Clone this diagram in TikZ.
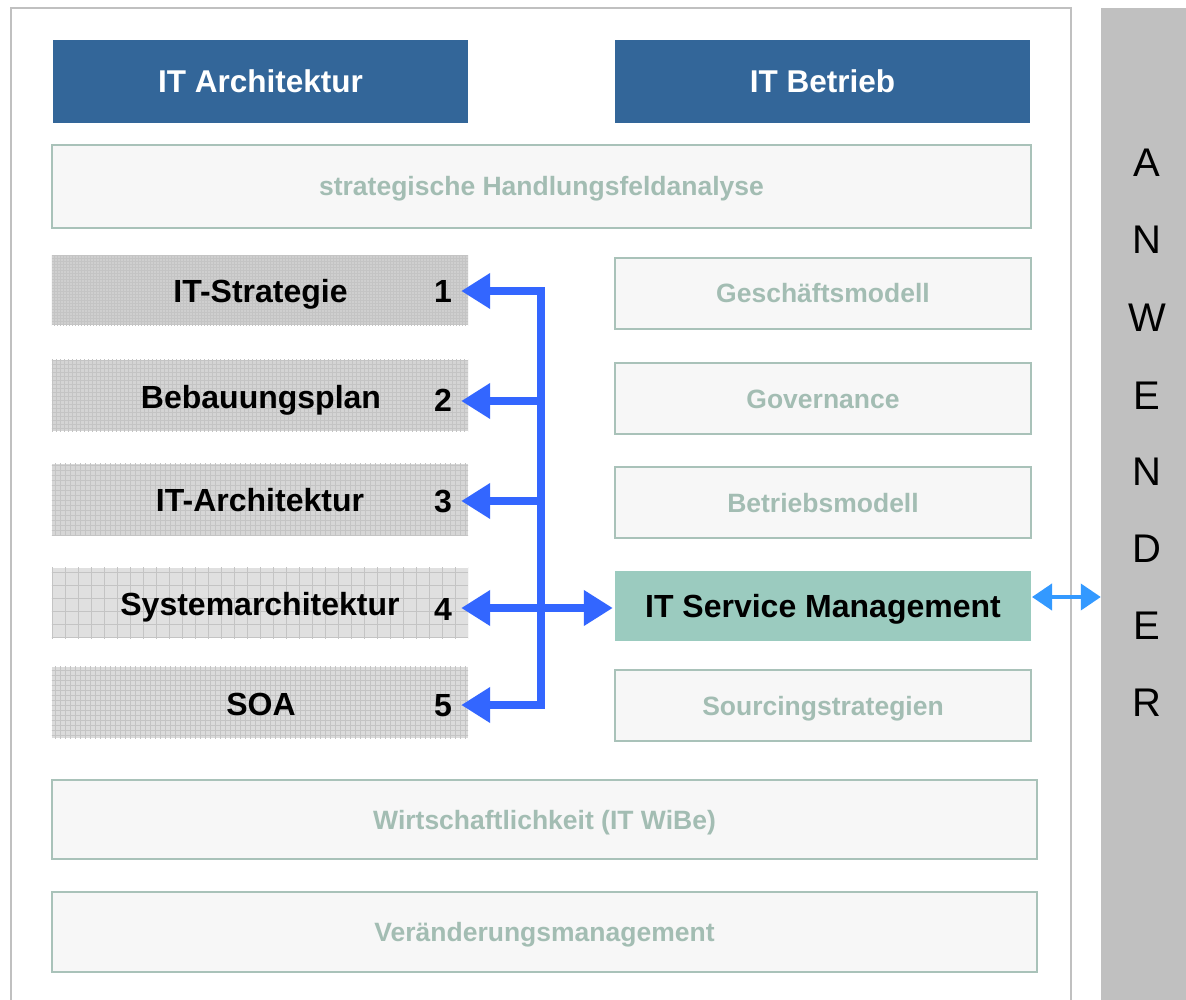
\documentclass[tikz,border=0pt]{standalone}
\usepackage{fontspec}
\setmainfont{Liberation Sans}
\usetikzlibrary{arrows.meta}
\definecolor{hdrblue}{HTML}{336699}
\definecolor{frame}{HTML}{C0C0C0}
\definecolor{gbord}{HTML}{A9C2B9}
\definecolor{gtext}{HTML}{A3BDB3}
\definecolor{gfill}{HTML}{F7F7F7}
\definecolor{itsm}{HTML}{9BCBBF}
\definecolor{arrblue}{HTML}{3366FF}
\definecolor{arrlight}{HTML}{3399FF}
\definecolor{gridc}{HTML}{C4C4C4}
\tikzset{
  hdr/.style={fill=hdrblue, text=white, minimum width=415, minimum height=83, inner sep=0,
    text height=23pt, text depth=0pt,
    font=\fontsize{31.5}{36}\selectfont\bfseries},
  greybox/.style={fill=gfill, draw=gbord, line width=2, text=gtext, inner sep=0,
    text height=19pt, text depth=0pt,
    font=\fontsize{26.5}{30}\selectfont\bfseries},
  leftbox/.style={fill=#1, minimum width=416, inner sep=0},
  blacktext/.style={font=\fontsize{32}{36}\selectfont\bfseries, inner sep=0,
    text height=23pt, text depth=0pt},
  numnode/.style={minimum width=36, inner sep=0, text height=23pt, text depth=0pt,
    font=\fontsize{32}{36}\selectfont\bfseries},
  trunk/.style={line width=8, draw=arrblue},
  barrow/.style={line width=8, draw=arrblue, -{Triangle[length=29, width=34]}},
  larrow/.style={line width=4, draw=arrlight, {Triangle[length=20, width=26]}-{Triangle[length=20, width=26]}},
  letter/.style={font=\fontsize{40}{48}\selectfont, inner sep=0}
}
\begin{document}
\begin{tikzpicture}[x=1pt, y=-1pt]
\useasboundingbox (0,0) rectangle (1186,1000);
\fill[white] (0,0) rectangle (1186,1000);
% outer frame
\draw[frame, line width=2] (11,1001) -- (11,8) -- (1071,8) -- (1071,1001);
% Anwender bar
\node[fill=frame, minimum width=85, minimum height=992, inner sep=0] (bar) at (1143.5,504) {};
\foreach \l/\y [count=\i] in {A/163, N/240, W/318, E/396, N/472, D/549, E/626, R/703}
  \node[letter] (let\i) at (1147,\y) {\l};
% headers
\node[hdr] (harch) at (260.5,81.5) {IT Architektur};
\node[hdr] (hbetr) at (822.5,81.5) {IT Betrieb};
% strategic
\node[greybox, minimum width=979, minimum height=83] (strat) at (541.5,186.5) {strategische Handlungsfeldanalyse};
% left boxes
\node[leftbox=black!19, minimum height=69] (L1) at (260,290.5) {};
\node[leftbox=black!17, minimum height=71] (L2) at (260,395.5) {};
\node[leftbox=black!16, minimum height=71] (L3) at (260,499.5) {};
\node[leftbox=black!12, minimum height=70] (L4) at (260,603) {};
\node[leftbox=black!14, minimum height=71] (L5) at (260,702.5) {};
\foreach \b/\s in {L1/3, L2/4, L3/5, L4/13, L5/5}{
  \begin{scope}
    \clip (\b.south west) rectangle (\b.north east);
    \draw[gridc, line width=0.4, xstep=\s pt, ystep=\s pt] ([shift={(-20,20)}]\b.south west) grid ([shift={(20,-20)}]\b.north east);
  \end{scope}
}
\node[blacktext] (t1) at (260.5,291) {IT-Strategie};
\node[blacktext] (t2) at (261,397) {Bebauungsplan};
\node[blacktext] (t3) at (260,500) {IT-Architektur};
\node[blacktext] (t4) at (260,604) {Systemarchitektur};
\node[blacktext] (t5) at (261,704) {SOA};
\node[numnode] (n1) at (443,291) {1};
\node[numnode] (n2) at (443,400) {2};
\node[numnode] (n3) at (443,501) {3};
\node[numnode] (n4) at (443,609) {4};
\node[numnode] (n5) at (443,705) {5};
% right boxes
\node[greybox, minimum width=416, minimum height=71] (R1) at (823,293.5) {Geschäftsmodell};
\node[greybox, minimum width=416, minimum height=71] (R2) at (823,398.5) {Governance};
\node[greybox, minimum width=416, minimum height=71] (R3) at (823,502.5) {Betriebsmodell};
\node[fill=itsm, minimum width=416, minimum height=70, inner sep=0,
  text height=23pt, text depth=0pt,
  font=\fontsize{32}{36}\selectfont\bfseries] (itsmn) at (823,606) {IT Service Management};
\node[greybox, minimum width=416, minimum height=71] (R5) at (823,705.5) {Sourcingstrategien};
% bottom boxes
\node[greybox, minimum width=985, minimum height=79] (wibe) at (544.5,819.5) {Wirtschaftlichkeit (IT WiBe)};
\node[greybox, minimum width=985, minimum height=80] (vm) at (544.5,932) {Veränderungsmanagement};
% blue connectors
\coordinate (T1) at (541,291);
\coordinate (T2) at (541,401);
\coordinate (T3) at (541,501);
\coordinate (T4) at (541,608);
\coordinate (T5) at (541,705);
\draw[trunk, line cap=rect] (T1) -- (T5);
\draw[barrow] (T1) -- (T1 -| n1.east);
\draw[barrow] (T2) -- (T2 -| n2.east);
\draw[barrow] (T3) -- (T3 -| n3.east);
\draw[barrow] (T4) -- (T4 -| n4.east);
\draw[barrow] (T5) -- (T5 -| n5.east);
\draw[barrow] (T4) -- ([xshift=-2]T4 -| itsmn.west);
% light double arrow
\coordinate (D) at (1032,597);
\draw[larrow] (D) -- (D -| bar.west);
\end{tikzpicture}
\end{document}
